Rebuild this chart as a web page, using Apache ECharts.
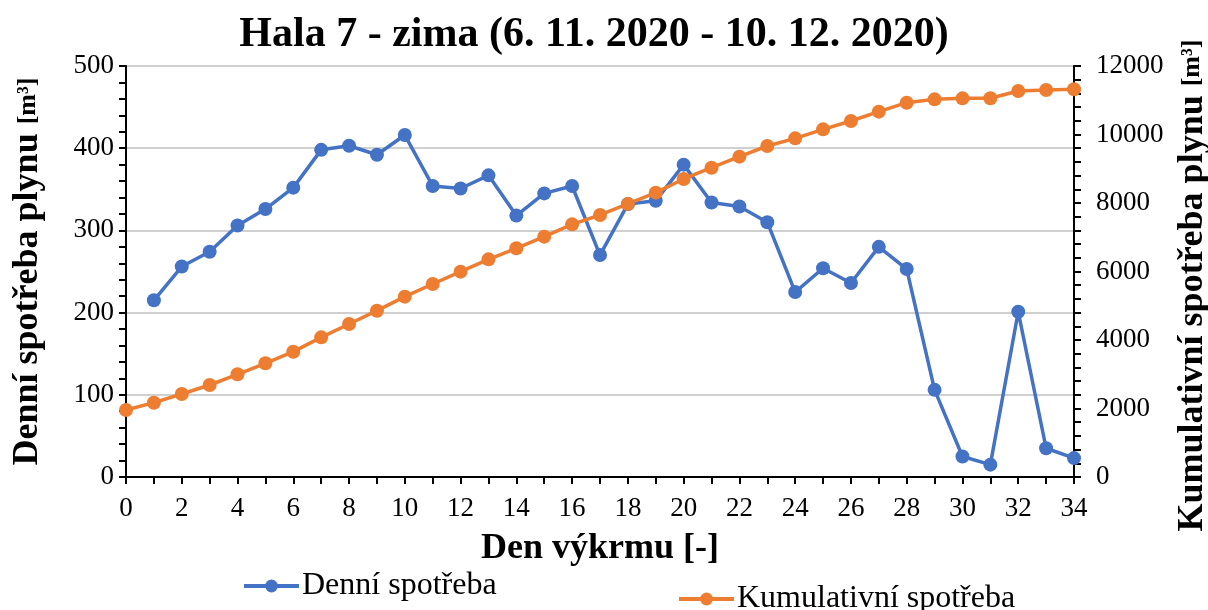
<!DOCTYPE html>
<html>
<head>
<meta charset="utf-8">
<script src="https://cdn.jsdelivr.net/npm/echarts@6/dist/echarts.min.js"></script>
<style>
html, body { margin: 0; padding: 0; background: #fff; }
#chart { width: 1208px; height: 610px; }
</style>
</head>
<body>
<div id="chart"></div>
<script>
// den vykrmu
var days = [0,1,2,3,4,5,6,7,8,9,10,11,12,13,14,15,16,17,18,19,20,21,22,23,24,25,26,27,28,29,30,31,32,33,34];
// denni spotreba [m3] (den 0 bez hodnoty)
var denni = [null,215,256,274,306,326,352,398,403,392,416,354,351,367,318,345,354,270,332,336,380,334,329,310,225,254,236,280,253,106,25,15,201,35,23];
// kumulativni spotreba [m3]
var kumul = [1956,2170,2423,2686,2998,3319,3659,4078,4467,4856,5265,5635,5995,6355,6677,7017,7377,7650,7971,8302,8701,9031,9353,9664,9888,10151,10394,10667,10929,11027,11056,11060,11270,11299,11320];

var serif = '"Liberation Serif", "Times New Roman", serif';
var blue = '#4472C4', orange = '#ED7D31';

function pairs(ys) {
    var out = [];
    for (var i = 0; i < days.length; i++) {
        if (ys[i] !== null) out.push([days[i], ys[i]]);
    }
    return out;
}

var nameStyle = {
    fontFamily: serif, fontSize: 36, fontWeight: 'bold', color: '#000',
    rich: { u: { fontFamily: serif, fontSize: 26, fontWeight: 'bold', color: '#000' } }
};
var legendText = { fontFamily: serif, fontSize: 32, color: '#000', padding: [0, 0, 0, -2] };

var chart = echarts.init(document.getElementById('chart'));
chart.setOption({
    animation: false,
    title: {
        text: 'Hala 7 - zima (6. 11. 2020 - 10. 12. 2020)',
        left: 589, top: 9, textAlign: 'center',
        textStyle: { fontFamily: serif, fontSize: 42, fontWeight: 'bold', color: '#000' }
    },
    legend: [{
        data: ['Denní spotřeba'],
        left: 237, top: 565,
        itemWidth: 55, itemHeight: 16,
        lineStyle: { width: 4 },
        textStyle: legendText
    }, {
        data: ['Kumulativní spotřeba'],
        left: 672, top: 578,
        itemWidth: 55, itemHeight: 16,
        lineStyle: { width: 4 },
        textStyle: legendText
    }],
    grid: { left: 126, right: 134, top: 66, bottom: 133, outerBoundsMode: 'none' },
    xAxis: {
        type: 'value', min: 0, max: 34, interval: 2,
        name: 'Den výkrmu [-]', nameLocation: 'middle', nameGap: 54,
        nameTextStyle: nameStyle,
        axisLine: { lineStyle: { color: '#000', width: 2 } },
        axisTick: { show: true, length: 7, lineStyle: { color: '#000', width: 2 } },
        minorTick: { show: true, splitNumber: 2, length: 7, lineStyle: { color: '#000', width: 2 } },
        splitLine: { show: false },
        axisLabel: { fontFamily: serif, fontSize: 27, color: '#000', margin: 18 }
    },
    yAxis: [{
        type: 'value', min: 0, max: 500, interval: 100,
        name: 'Denní spotřeba plynu {u|[m³]}', nameLocation: 'middle', nameGap: 80,
        nameTextStyle: nameStyle,
        axisLine: { show: true, lineStyle: { color: '#000', width: 2 } },
        axisTick: { show: true, length: 7, lineStyle: { color: '#000', width: 2 } },
        minorTick: { show: true, splitNumber: 5, length: 7, lineStyle: { color: '#000', width: 2 } },
        splitLine: { show: true, lineStyle: { color: '#c0c0c0', width: 1.5 } },
        axisLabel: { fontFamily: serif, fontSize: 27, color: '#000', margin: 12 }
    }, {
        type: 'value', min: 0, max: 12000, interval: 2000,
        name: 'Kumulativní spotřeba plynu {u|[m³]}', nameLocation: 'middle', nameGap: 96,
        nameTextStyle: Object.assign({}, nameStyle, { padding: [0, 28, 0, 0] }),
        axisLine: { show: true, lineStyle: { color: '#000', width: 2 } },
        axisTick: { show: true, length: 7, lineStyle: { color: '#000', width: 2 } },
        minorTick: { show: true, splitNumber: 5, length: 7, lineStyle: { color: '#000', width: 2 } },
        splitLine: { show: false },
        axisLabel: { fontFamily: serif, fontSize: 27, color: '#000', margin: 22,
            formatter: function (v) { return String(v); } }
    }],
    series: [{
        name: 'Denní spotřeba', type: 'line', yAxisIndex: 0,
        data: pairs(denni),
        symbol: 'circle', symbolSize: 14,
        itemStyle: { color: blue },
        lineStyle: { color: blue, width: 3.5 }
    }, {
        name: 'Kumulativní spotřeba', type: 'line', yAxisIndex: 1,
        data: pairs(kumul),
        symbol: 'circle', symbolSize: 14,
        itemStyle: { color: orange },
        lineStyle: { color: orange, width: 3.5 }
    }]
});
</script>
</body>
</html>
